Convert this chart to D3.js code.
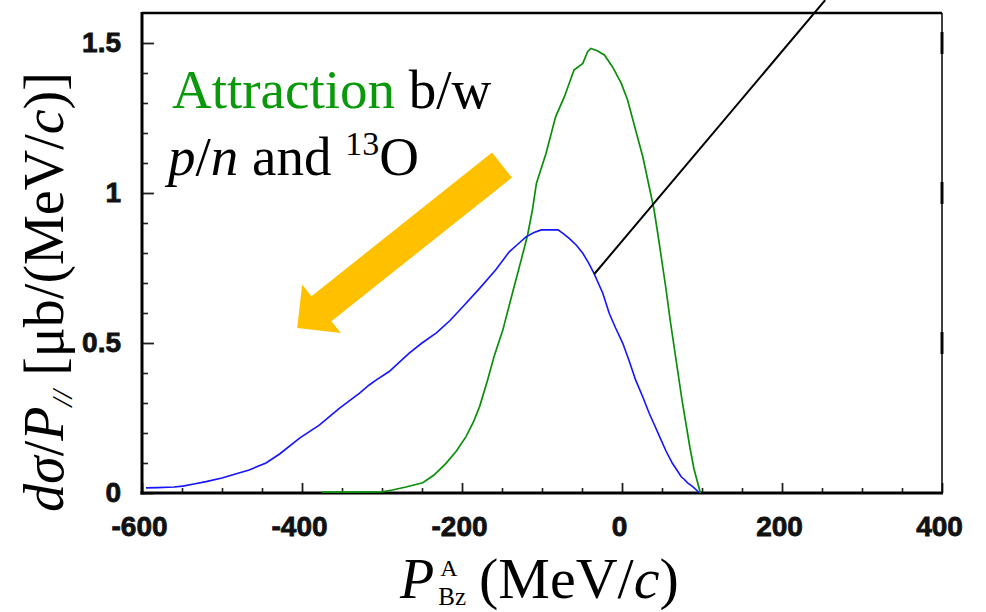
<!DOCTYPE html>
<html>
<head>
<meta charset="utf-8">
<script src="https://cdn.jsdelivr.net/npm/d3@7"></script>
<style>
  body { margin: 0; background: #fff; }
  svg { display: block; }
</style>
</head>
<body>
<svg id="chart" width="986" height="612"></svg>
<script>
// Axis ticks
const xTickValues = [-600, -400, -200, 0, 200, 400];
const xTickLabels = ["-600", "-400", "-200", "0", "200", "400"];
const yTickValues = [0, 0.5, 1, 1.5];
const yTickLabels = ["0", "0.5", "1", "1.5"];

// Blue distribution: momentum (MeV/c) and dσ/dP (μb/(MeV/c))
const blueMomentum = [-595, -580, -560, -549, -535, -520, -500, -480, -466, -445, -428, -403, -378, -353, -328, -316, -307, -291, -266, -250, -232, -215, -199, -178, -158, -141, -130, -120, -110, -101, -90, -80, -73, -66, -57, -49, -42, -35, -24, -16, -8, 1, 9, 17, 26, 34, 40, 47, 55, 63, 69, 74, 78, 82, 88, 93, 97];
const blueSigma = [0.017, 0.018, 0.020, 0.023, 0.030, 0.038, 0.050, 0.066, 0.077, 0.100, 0.130, 0.183, 0.227, 0.283, 0.333, 0.360, 0.377, 0.405, 0.466, 0.500, 0.534, 0.575, 0.621, 0.682, 0.743, 0.804, 0.830, 0.854, 0.868, 0.877, 0.877, 0.877, 0.864, 0.849, 0.826, 0.799, 0.768, 0.732, 0.666, 0.599, 0.550, 0.499, 0.440, 0.377, 0.320, 0.266, 0.230, 0.188, 0.140, 0.099, 0.075, 0.054, 0.045, 0.034, 0.022, 0.010, 0.000];

// Green distribution
const greenMomentum = [-375, -340, -300, -287, -270, -249, -235, -220, -207, -195, -186, -178, -168, -160, -149, -137, -126, -118, -112, -107, -95, -83, -72, -60, -49, -43, -39, -31, -22, -12, -1, 7, 17, 26, 34, 40, 45, 50, 55, 60, 65, 70, 75, 80, 85, 90, 95, 98];
const greenSigma = [0.003, 0.003, 0.004, 0.010, 0.020, 0.034, 0.060, 0.099, 0.140, 0.188, 0.235, 0.288, 0.377, 0.454, 0.543, 0.666, 0.777, 0.860, 0.943, 1.032, 1.132, 1.254, 1.321, 1.410, 1.432, 1.471, 1.482, 1.474, 1.460, 1.421, 1.366, 1.310, 1.210, 1.121, 1.021, 0.945, 0.860, 0.770, 0.680, 0.580, 0.490, 0.400, 0.310, 0.230, 0.150, 0.080, 0.030, 0.000];

// Annotation anchors in data units [momentum, sigma]
const arrowTail = [-150, 1.093];
const arrowTip = [-406, 0.55];
const pointerFrom = [-34.6, 0.73];
const pointerTo = [254, 1.643];

const svg = d3.select("#chart");
svg.append("rect").attr("width", 986).attr("height", 612).attr("fill", "#fff");

const plotLeft = 142, plotRight = 942, plotTop = 13, plotBottom = 493;
const x = d3.scaleLinear().domain([-600, 400]).range([plotLeft, plotRight]);
const y = d3.scaleLinear().domain([0, 1.6]).range([plotBottom, plotTop]);

const serif = "'Liberation Serif', 'Times New Roman', serif";
const sans = "'Liberation Sans', Arial, Helvetica, sans-serif";

// Minor ticks
const xMinor = d3.range(-550, 400, 50).filter(v => v % 200 !== 0);
const yMinor = d3.range(1, 16).map(i => i / 10).filter(v => Math.abs(v * 2 - Math.round(v * 2)) > 1e-6);

svg.append("g")
  .attr("transform", `translate(0,${plotBottom})`)
  .call(d3.axisBottom(x).tickValues(xMinor).tickSizeInner(-5).tickSizeOuter(0).tickFormat(""))
  .call(g => g.select(".domain").remove())
  .call(g => g.selectAll("line").attr("stroke", "#222").attr("stroke-width", 1.6));

svg.append("g")
  .attr("transform", `translate(${plotLeft},0)`)
  .call(d3.axisLeft(y).tickValues(yMinor).tickSizeInner(-6).tickSizeOuter(0).tickFormat(""))
  .call(g => g.select(".domain").remove())
  .call(g => g.selectAll("line").attr("stroke", "#222").attr("stroke-width", 1.6));

// Major ticks with labels
const xAxis = svg.append("g")
  .attr("transform", `translate(0,${plotBottom})`)
  .call(d3.axisBottom(x).tickValues(xTickValues).tickSizeInner(-10).tickSizeOuter(0).tickPadding(23)
    .tickFormat((d, i) => xTickLabels[i]))
  .call(g => g.select(".domain").remove());

const yAxis = svg.append("g")
  .attr("transform", `translate(${plotLeft},0)`)
  .call(d3.axisLeft(y).tickValues(yTickValues).tickSizeInner(-12).tickSizeOuter(0).tickPadding(21)
    .tickFormat((d, i) => yTickLabels[i]))
  .call(g => g.select(".domain").remove());

[xAxis, yAxis].forEach(g => {
  g.selectAll("line").attr("stroke", "#222").attr("stroke-width", 1.8);
  g.selectAll("text")
    .attr("font-family", sans).attr("font-size", 28).attr("font-weight", "bold")
    .attr("fill", "#111").attr("stroke", "#111").attr("stroke-width", 0.8);
});
xAxis.selectAll("text").attr("dx", -3);

// Right-hand frame marks at major y ticks
svg.append("g").selectAll("line").data(yTickValues.filter(v => v > 0)).join("line")
  .attr("x1", plotRight).attr("x2", plotRight)
  .attr("y1", d => y(d) - 11).attr("y2", d => y(d) + 11)
  .attr("stroke", "#111").attr("stroke-width", 3);

// Frame
svg.append("line").attr("x1", plotLeft).attr("x2", plotRight).attr("y1", plotTop).attr("y2", plotTop)
  .attr("stroke", "#000").attr("stroke-width", 2.5);
svg.append("line").attr("x1", plotRight).attr("x2", plotRight).attr("y1", plotTop).attr("y2", plotBottom)
  .attr("stroke", "#000").attr("stroke-width", 1.5);
svg.append("line").attr("x1", plotLeft).attr("x2", plotLeft).attr("y1", plotTop - 1).attr("y2", plotBottom + 1.5)
  .attr("stroke", "#000").attr("stroke-width", 3);
svg.append("line").attr("x1", plotLeft - 1.5).attr("x2", plotRight + 1).attr("y1", plotBottom).attr("y2", plotBottom)
  .attr("stroke", "#000").attr("stroke-width", 3);

// Distributions
const line = d3.line().x(d => x(d[0])).y(d => y(d[1]));
svg.append("path")
  .datum(d3.zip(greenMomentum, greenSigma))
  .attr("d", line).attr("fill", "none").attr("stroke", "#0b8f0b").attr("stroke-width", 1.7);
svg.append("path")
  .datum(d3.zip(blueMomentum, blueSigma))
  .attr("d", line).attr("fill", "none").attr("stroke", "#1414ff").attr("stroke-width", 1.6);

// Pointer line
svg.append("line")
  .attr("x1", x(pointerFrom[0])).attr("y1", y(pointerFrom[1]))
  .attr("x2", x(pointerTo[0])).attr("y2", y(pointerTo[1]))
  .attr("stroke", "#000").attr("stroke-width", 2);

// Block arrow
(function drawArrow() {
  const tx = x(arrowTail[0]), ty = y(arrowTail[1]);
  const hx = x(arrowTip[0]), hy = y(arrowTip[1]);
  const len = Math.hypot(hx - tx, hy - ty);
  const ux = (hx - tx) / len, uy = (hy - ty) / len;
  const nx = -uy, ny = ux;
  const shaftHalf = 16, headHalf = 31, headLen = 31;
  const bx = hx - ux * headLen, by = hy - uy * headLen;
  const pts = [
    [tx + nx * shaftHalf, ty + ny * shaftHalf],
    [bx + nx * shaftHalf, by + ny * shaftHalf],
    [bx + nx * headHalf, by + ny * headHalf],
    [hx, hy],
    [bx - nx * headHalf, by - ny * headHalf],
    [bx - nx * shaftHalf, by - ny * shaftHalf],
    [tx - nx * shaftHalf, ty - ny * shaftHalf]
  ];
  svg.append("polygon").attr("points", pts.map(p => p.join(",")).join(" ")).attr("fill", "#ffc000");
})();

// Annotation text
const t1 = svg.append("text").attr("x", 172).attr("y", 108)
  .attr("font-family", serif).attr("font-size", 55);
t1.append("tspan").attr("fill", "#0a990a").text("Attraction");
t1.append("tspan").attr("fill", "#000").text(" b/w");

const t2 = svg.append("text").attr("x", 168).attr("y", 175)
  .attr("font-family", serif).attr("font-size", 55).attr("fill", "#000");
t2.append("tspan").attr("font-style", "italic").text("p");
t2.append("tspan").text("/");
t2.append("tspan").attr("font-style", "italic").text("n");
t2.append("tspan").text(" and ");
t2.append("tspan").attr("font-size", 34).attr("dy", -20).text("13");
t2.append("tspan").attr("dy", 20).text("O");

// Y-axis title
const yt = svg.append("text")
  .attr("transform", "translate(63,292) rotate(-90)")
  .attr("text-anchor", "middle")
  .attr("font-family", serif).attr("font-size", 56).attr("fill", "#000");
yt.append("tspan").attr("font-style", "italic").text("dσ");
yt.append("tspan").text("/");
yt.append("tspan").attr("font-style", "italic").text("P");
yt.append("tspan").attr("font-style", "italic").attr("font-size", 30).attr("dy", 9).text("//");
yt.append("tspan").attr("dy", -9).text(" [μb/(MeV/");
yt.append("tspan").attr("font-style", "italic").text("c");
yt.append("tspan").text(")]");

// X-axis title: P with stacked super/subscript, then units
const xt = svg.append("g").attr("font-family", serif).attr("fill", "#000");
const pText = xt.append("text").attr("x", 400).attr("y", 598)
  .attr("font-size", 56).attr("font-style", "italic").text("P");
const scriptX = 400 + pText.node().getComputedTextLength() + 6;
xt.append("text").attr("x", scriptX).attr("y", 576).attr("font-size", 24).text("A");
const bz = xt.append("text").attr("x", scriptX - 2).attr("y", 605).attr("font-size", 25).text("Bz");
const unitX = scriptX - 2 + bz.node().getComputedTextLength() + 13;
const unit = xt.append("text").attr("x", unitX).attr("y", 598).attr("font-size", 58);
unit.append("tspan").text("(MeV/");
unit.append("tspan").attr("font-style", "italic").text("c");
unit.append("tspan").text(")");
</script>
</body>
</html>
